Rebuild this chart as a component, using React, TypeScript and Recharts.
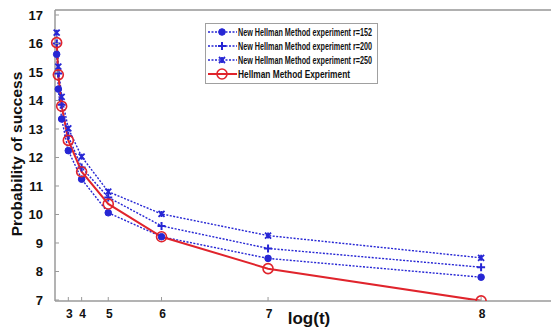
import React from "react";
import {
  Legend,
  Line,
  LineChart,
  ReferenceLine,
  XAxis,
  YAxis,
} from "recharts";

// t = 2^log(t); the x axis is linear in t, labelled with log(t)
const tValues = [1, 2, 4, 8, 16, 32, 64, 128, 256];
const r152 = [15.62, 14.4, 13.35, 12.24, 11.24, 10.06, 9.22, 8.46, 7.8];
const r200 = [16.0, 14.95, 13.85, 12.75, 11.65, 10.6, 9.6, 8.81, 8.15];
const r250 = [16.38, 15.19, 14.13, 13.02, 12.03, 10.8, 10.02, 9.26, 8.48];
const hellman = [16.03, 14.9, 13.8, 12.6, 11.5, 10.37, 9.22, 8.1, 6.97];

const xTicks = [8, 16, 32, 64, 128, 256];
const xTickLabels = ["3", "4", "5", "6", "7", "8"];
const yTicks = [7, 8, 9, 10, 11, 12, 13, 14, 15, 16, 17];

const seriesNames = [
  "New Hellman Method experiment r=152",
  "New Hellman Method experiment r=200",
  "New Hellman Method experiment r=250",
  "Hellman Method Experiment",
];

const data = tValues.map((t, i) => ({
  t,
  r152: r152[i],
  r200: r200[i],
  r250: r250[i],
  hellman: hellman[i],
}));

const X_DOMAIN = [0, 298];
const Y_DOMAIN = [6.965, 17.175];

const BLUE = "#2626d4";
const RED = "#e0242c";
const AXIS = "#9a9a9a";
const FONT = "'Liberation Sans', Arial, sans-serif";

function CircleDot({ cx, cy }: any) {
  if (cx == null || cy == null) return null;
  return <circle cx={cx} cy={cy} r={3.3} fill={BLUE} stroke={BLUE} />;
}

function PlusDot({ cx, cy }: any) {
  if (cx == null || cy == null) return null;
  return (
    <path
      d={`M${cx - 4},${cy}H${cx + 4}M${cx},${cy - 4}V${cy + 4}`}
      stroke={BLUE}
      strokeWidth={2}
    />
  );
}

function CrossDot({ cx, cy }: any) {
  if (cx == null || cy == null) return null;
  return (
    <path
      d={`M${cx - 3},${cy - 3}L${cx + 3},${cy + 3}M${cx - 3},${cy + 3}L${cx + 3},${cy - 3}M${cx},${cy - 3}V${cy + 3}`}
      stroke={BLUE}
      strokeWidth={1.8}
    />
  );
}

function RingDot({ cx, cy }: any) {
  if (cx == null || cy == null) return null;
  return <circle cx={cx} cy={cy} r={5} fill="none" stroke={RED} strokeWidth={1.6} />;
}

function XTick({ x, y, payload }: any) {
  const axisY = y - 8;
  const i = xTicks.indexOf(payload.value);
  return (
    <g>
      <line x1={x} x2={x} y1={axisY} y2={axisY - 4} stroke={AXIS} />
      <text
        x={x + 1}
        y={y}
        dy="0.71em"
        textAnchor="middle"
        fontFamily={FONT}
        fontWeight="bold"
        fontSize={12}
        fill="#111"
      >
        {xTickLabels[i]}
      </text>
    </g>
  );
}

// inward tick marks only, on the top frame
function TopTick({ x, y }: any) {
  const axisY = y + 8;
  return <line x1={x} x2={x} y1={axisY} y2={axisY + 4} stroke="#c4c4c4" />;
}

// inward tick marks only, on the right frame
function RightTick({ x, y }: any) {
  const axisX = x - 8;
  return <line x1={axisX - 4} x2={axisX - 1} y1={y} y2={y} stroke="#c4c4c4" />;
}

function YTick({ x, y, payload }: any) {
  const axisX = x + 8;
  return (
    <g>
      <line x1={axisX} x2={axisX + 4} y1={y} y2={y} stroke={AXIS} />
      <text
        x={x - 4}
        y={y}
        dy="0.355em"
        textAnchor="end"
        fontFamily={FONT}
        fontWeight="bold"
        fontSize={13}
        fill="#111"
      >
        {payload.value}
      </text>
    </g>
  );
}

function YTitle() {
  const cx = 16;
  const cy = 154;
  return (
    <text
      x={cx}
      y={cy}
      transform={`rotate(-90 ${cx} ${cy})`}
      textAnchor="middle"
      dominantBaseline="central"
      fontFamily={FONT}
      fontWeight="bold"
      fontSize={15.5}
      fill="#111"
    >
      Probability of success
    </text>
  );
}

function XTitle({ viewBox }: any) {
  const cx = viewBox.x + viewBox.width / 2 + 6;
  return (
    <text
      x={cx}
      y={viewBox.y + 23}
      textAnchor="middle"
      fontFamily={FONT}
      fontWeight="bold"
      fontSize={17}
      fill="#111"
    >
      log(t)
    </text>
  );
}

const legendMarkers = [CircleDot, PlusDot, CrossDot, RingDot];
const legendWidths = [134, 134, 134, 112];

function LegendBox() {
  return (
    <svg width={174} height={62} style={{ display: "block", overflow: "visible" }}>
      <rect x={0.5} y={0.5} width={172} height={60} fill="#fff" stroke="#a0a0a0" />
      {seriesNames.map((name, i) => {
        const y = 9 + i * 14;
        const Marker = legendMarkers[i];
        const isRed = i === 3;
        return (
          <g key={name}>
            <line
              x1={3}
              x2={32}
              y1={y}
              y2={y}
              stroke={isRed ? RED : BLUE}
              strokeWidth={isRed ? 2 : 1.3}
              strokeDasharray={isRed ? undefined : "2 1.5"}
            />
            <Marker cx={17} cy={y} />
            <text
              x={33}
              y={y}
              dy="0.36em"
              fontFamily="'Liberation Sans Narrow', 'Liberation Sans', Arial, sans-serif"
              fontWeight="bold"
              fontSize={10}
              fill="#111"
              textLength={legendWidths[i]}
              lengthAdjust="spacingAndGlyphs"
            >
              {name}
            </text>
          </g>
        );
      })}
    </svg>
  );
}

export default function App() {
  return (
    <div style={{ position: "absolute", left: 0, top: 0, background: "#fff" }}>
      <LineChart
        width={551}
        height={329}
        data={data}
        margin={{ top: 10, right: 0, bottom: 0, left: 0 }}
      >
        <XAxis
          type="number"
          dataKey="t"
          domain={X_DOMAIN}
          ticks={xTicks}
          tick={<XTick />}
          tickLine={false}
          axisLine={{ stroke: AXIS, strokeWidth: 1.5 }}
          height={28}
          interval={0}
          label={<XTitle />}
        />
        <XAxis
          xAxisId="top"
          orientation="top"
          type="number"
          dataKey="t"
          domain={X_DOMAIN}
          ticks={xTicks}
          tick={<TopTick />}
          tickLine={false}
          axisLine={false}
          height={0}
          interval={0}
        />
        <YAxis
          type="number"
          domain={Y_DOMAIN}
          ticks={yTicks}
          tick={<YTick />}
          tickLine={false}
          axisLine={{ stroke: AXIS, strokeWidth: 1.5 }}
          width={55}
          interval={0}
          allowDataOverflow
          label={<YTitle />}
        />
        <YAxis
          yAxisId="right"
          orientation="right"
          type="number"
          domain={Y_DOMAIN}
          ticks={yTicks.slice(1, -1)}
          tick={<RightTick />}
          tickLine={false}
          axisLine={false}
          width={0}
          interval={0}
          allowDataOverflow
        />
        <ReferenceLine y={Y_DOMAIN[1]} stroke="#b0b0b0" strokeWidth={2} />
        <Legend
          layout="vertical"
          align="center"
          verticalAlign="middle"
          content={<LegendBox />}
          wrapperStyle={{ left: 205, top: 23, width: 174, height: 62, transform: "none" }}
        />
        <Line
          dataKey="r250"
          name={seriesNames[2]}
          stroke={BLUE}
          strokeWidth={1.4}
          strokeDasharray="2 1.5"
          dot={<CrossDot />}
          isAnimationActive={false}
        />
        <Line
          dataKey="r200"
          name={seriesNames[1]}
          stroke={BLUE}
          strokeWidth={1.4}
          strokeDasharray="2 1.5"
          dot={<PlusDot />}
          isAnimationActive={false}
        />
        <Line
          dataKey="r152"
          name={seriesNames[0]}
          stroke={BLUE}
          strokeWidth={1.4}
          strokeDasharray="2 1.5"
          dot={<CircleDot />}
          isAnimationActive={false}
        />
        <Line
          dataKey="hellman"
          name={seriesNames[3]}
          stroke={RED}
          strokeWidth={2}
          dot={<RingDot />}
          isAnimationActive={false}
        />
      </LineChart>
    </div>
  );
}
